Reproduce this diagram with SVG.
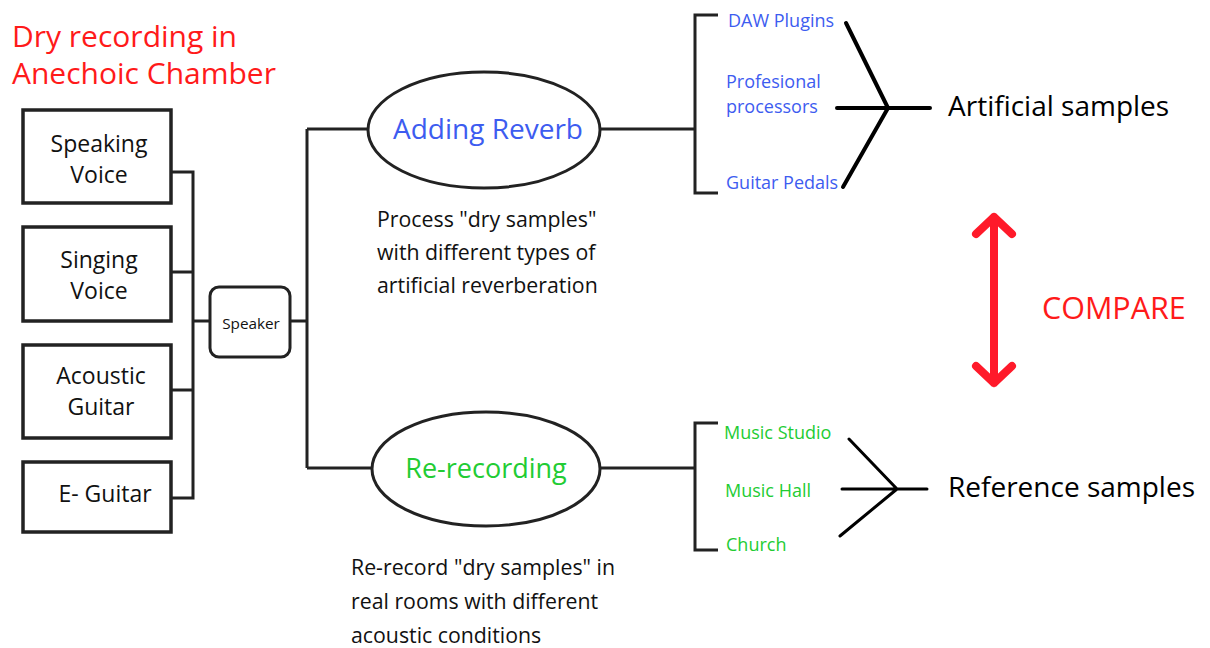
<svg xmlns="http://www.w3.org/2000/svg" width="1210" height="648" viewBox="0 0 1210 648">
<style>
text{font-family:"Open Sans","Noto Sans","Liberation Sans",sans-serif;fill:#111}
.box{fill:#fff;stroke:#222;stroke-width:3.5}
.ln{fill:none;stroke:#222;stroke-width:3}
.fan{fill:none;stroke:#000;stroke-width:4;stroke-linecap:round}
.bx{font-size:23px;text-anchor:middle}
.blue{fill:#3d5cf0}
.green{fill:#22cc33}
.red{fill:#ff1a1a}
.desc{font-size:21.3px}
.out{font-size:28px;fill:#000}
.sub{font-size:18px}
</style>
<g id="title">
<text class="red" x="12" y="47" font-size="30">Dry recording in</text>
<text class="red" x="12" y="84" font-size="30">Anechoic Chamber</text>
</g>
<g id="connectors">
<path class="ln" d="M171 172H193V498H171M171 272H193M171 390H193M193 321H210M290 321H307M307 129V468M307 129H368M307 468H372"/>
<path class="ln" d="M600 129H695M718 15H695V193H718"/>
<path class="ln" d="M600 468H695M718 423H695V550H718"/>
<path class="fan" d="M846 23L888 108M843 187L888 108M837 108H930"/>
<path class="fan" style="stroke-width:3" d="M849 439L897 489M840 536L897 489M842 489H927"/>
<path fill="none" stroke="#ff1a2a" stroke-width="8" stroke-linecap="round" stroke-linejoin="round" d="M994 217V383M976 234L994 217L1012 234M976 366L994 383L1012 366"/>
</g>
<g id="n-speaking"><rect class="box" x="23" y="110" width="148" height="93"/><text class="bx" x="99" y="152">Speaking</text><text class="bx" x="99" y="183">Voice</text></g>
<g id="n-singing"><rect class="box" x="23" y="227" width="148" height="94"/><text class="bx" x="99" y="268">Singing</text><text class="bx" x="99" y="299">Voice</text></g>
<g id="n-acoustic"><rect class="box" x="23" y="345" width="148" height="93"/><text class="bx" x="101" y="384">Acoustic</text><text class="bx" x="101" y="415">Guitar</text></g>
<g id="n-eguitar"><rect class="box" x="23" y="462" width="148" height="70"/><text class="bx" x="105" y="502">E- Guitar</text></g>
<g id="n-speaker"><rect class="box" style="stroke-width:3" x="210" y="287" width="80" height="70" rx="9"/><text x="251" y="329" font-size="15.3" text-anchor="middle">Speaker</text></g>
<g id="n-reverb"><ellipse class="box" style="stroke-width:3" cx="484" cy="130" rx="116" ry="58"/><text class="blue" x="488" y="139" font-size="28" text-anchor="middle">Adding Reverb</text></g>
<g id="n-rerec"><ellipse class="box" style="stroke-width:3" cx="486" cy="469" rx="114" ry="57"/><text class="green" x="486" y="478" font-size="27" text-anchor="middle">Re-recording</text></g>
<g id="desc-reverb">
<text class="desc" x="377" y="227">Process "dry samples"</text>
<text class="desc" x="377" y="260">with different types of</text>
<text class="desc" x="377" y="293">artificial reverberation</text>
</g>
<g id="desc-rerec">
<text class="desc" x="351" y="575">Re-record "dry samples" in</text>
<text class="desc" x="351" y="609">real rooms with different</text>
<text class="desc" x="351" y="643">acoustic conditions</text>
</g>
<g id="n-artificial-items">
<text class="sub blue" x="728" y="27">DAW Plugins</text>
<text class="sub blue" x="726" y="88">Profesional</text>
<text class="sub blue" x="726" y="113">processors</text>
<text class="sub blue" x="726" y="189">Guitar Pedals</text>
</g>
<g id="n-artificial"><text class="out" x="948" y="116">Artificial samples</text></g>
<g id="n-ref-items">
<text class="sub green" x="724" y="439">Music Studio</text>
<text class="sub green" x="725" y="497">Music Hall</text>
<text class="sub green" x="726" y="551">Church</text>
</g>
<g id="n-reference"><text class="out" x="948" y="497">Reference samples</text></g>
<g id="compare"><text class="red" x="1042" y="319" font-size="30.5">COMPARE</text></g>
</svg>
